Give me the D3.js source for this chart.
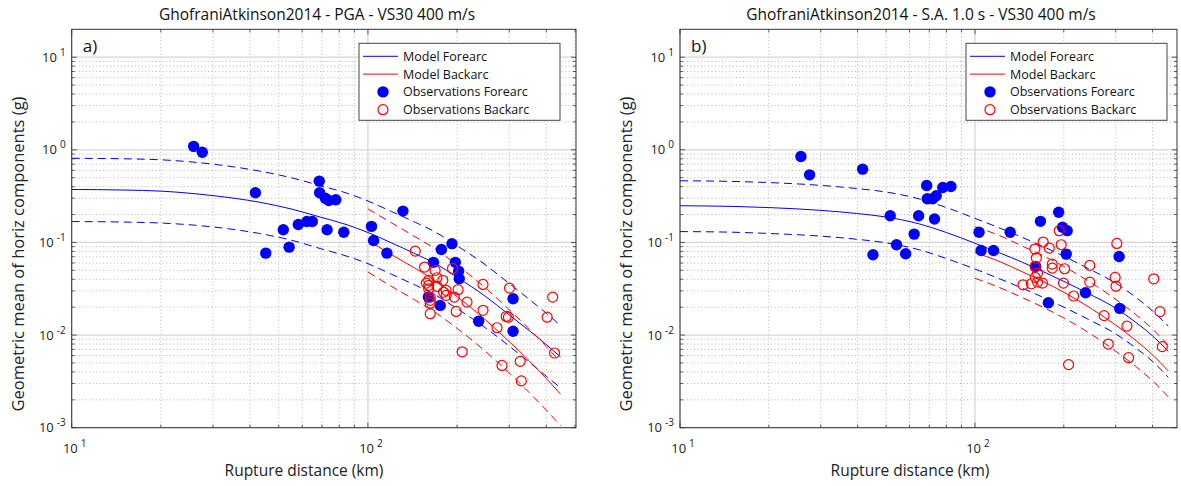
<!DOCTYPE html>
<html>
<head>
<meta charset="utf-8">
<script src="https://cdn.jsdelivr.net/npm/d3@7"></script>
<style>
  body { margin: 0; background: #fff; }
  svg { display: block; font-family: "Open Sans", "Noto Sans", sans-serif; }
</style>
</head>
<body>
<div id="chart"></div>
<script>
// ---- data ----
// panel a) PGA
let pgaForeDist = [10, 15, 20, 30, 43, 55, 69, 85, 100, 120, 145, 170, 200, 250, 300, 350, 400, 447];
let pgaForeMean = [0.373, 0.368, 0.358, 0.32, 0.272, 0.23, 0.188, 0.155, 0.128, 0.099, 0.075, 0.0585, 0.042, 0.026, 0.0165, 0.0112, 0.0079, 0.0058];
let pgaForeUp = [0.81, 0.80, 0.78, 0.70, 0.59, 0.50, 0.41, 0.34, 0.28, 0.216, 0.164, 0.128, 0.092, 0.057, 0.036, 0.0244, 0.0172, 0.0127];
let pgaForeLo = [0.168, 0.166, 0.162, 0.147, 0.125, 0.106, 0.086, 0.071, 0.059, 0.0454, 0.0344, 0.0268, 0.0193, 0.0119, 0.0076, 0.0051, 0.0036, 0.0027];
let pgaBackDist = [100, 120, 145, 170, 200, 250, 300, 350, 400, 447];
let pgaBackMean = [0.105, 0.074, 0.052, 0.038, 0.026, 0.0145, 0.0085, 0.0053, 0.0034, 0.0023];
let pgaBackUp = [0.23, 0.163, 0.114, 0.084, 0.057, 0.032, 0.0187, 0.0117, 0.0075, 0.0051];
let pgaBackLo = [0.048, 0.0336, 0.0236, 0.0173, 0.0118, 0.0066, 0.0039, 0.0024, 0.00155, 0.00105];
let pgaObsFore = [[25.8, 1.09], [27.6, 0.94], [41.7, 0.344], [45.2, 0.0767], [51.8, 0.137], [54.2, 0.089], [58.2, 0.156], [62.2, 0.168], [64.9, 0.168], [68.5, 0.459], [68.7, 0.344], [71.8, 0.30], [72.8, 0.137], [73.8, 0.284], [77.9, 0.289], [82.9, 0.129], [102.8, 0.149], [104.5, 0.105], [115.9, 0.0767], [131.3, 0.218], [160, 0.0257], [166.4, 0.061], [175.4, 0.0209], [177, 0.084], [192.2, 0.097], [197.3, 0.061], [202.4, 0.049], [203.4, 0.0406], [236.5, 0.0141], [309, 0.0247], [309, 0.011]];
let pgaObsBack = [[144.5, 0.0806], [155.3, 0.0542], [168.6, 0.0499], [193, 0.0524], [160.4, 0.039], [157.5, 0.0364], [160.4, 0.0344], [160.4, 0.0316], [162.3, 0.0257], [162.3, 0.0237], [162.3, 0.0221], [162.3, 0.017], [171, 0.0416], [171, 0.0335], [179, 0.039], [180, 0.029], [183.7, 0.0304], [183.7, 0.0268], [195.7, 0.0257], [201.5, 0.0309], [198.6, 0.018], [216, 0.0227], [244.6, 0.0352], [244.6, 0.0185], [300.4, 0.0321], [293, 0.0159], [298, 0.0156], [272.7, 0.012], [420.5, 0.0257], [402.8, 0.0156], [426.6, 0.0064], [208, 0.0066], [283.6, 0.0047], [326.6, 0.0052], [329.5, 0.0032]];

// panel b) S.A. 1.0 s
let saForeDist = [10, 15, 20, 30, 40, 50, 65, 80, 100, 120, 145, 162, 200, 240, 300, 350, 400, 452];
let saForeMean = [0.249, 0.245, 0.238, 0.222, 0.205, 0.188, 0.158, 0.128, 0.098, 0.078, 0.061, 0.052, 0.038, 0.0285, 0.0195, 0.0138, 0.0098, 0.0067];
let saForeUp = [0.463, 0.456, 0.443, 0.413, 0.381, 0.35, 0.294, 0.238, 0.182, 0.145, 0.113, 0.097, 0.071, 0.053, 0.0363, 0.0257, 0.0182, 0.0125];
let saForeLo = [0.131, 0.129, 0.125, 0.117, 0.108, 0.099, 0.083, 0.067, 0.0516, 0.041, 0.032, 0.0274, 0.02, 0.015, 0.0103, 0.0073, 0.0052, 0.0035];
let saBackDist = [100, 120, 145, 170, 200, 250, 300, 350, 400, 452];
let saBackMean = [0.078, 0.063, 0.048, 0.038, 0.029, 0.019, 0.0128, 0.0088, 0.0061, 0.0041];
let saBackUp = [0.148, 0.12, 0.091, 0.072, 0.055, 0.036, 0.0243, 0.0167, 0.0116, 0.0078];
let saBackLo = [0.041, 0.033, 0.0253, 0.02, 0.0153, 0.01, 0.0067, 0.0046, 0.0032, 0.00215];
let saObsFore = [[25.7, 0.848], [27.5, 0.537], [41.6, 0.618], [45.1, 0.0736], [51.6, 0.194], [54.2, 0.0944], [58.2, 0.0755], [62.2, 0.123], [64.4, 0.194], [68.6, 0.412], [68.9, 0.296], [71.9, 0.296], [73.9, 0.319], [72.9, 0.179], [77.8, 0.392], [82.9, 0.402], [103.2, 0.129], [104.9, 0.082], [115.6, 0.082], [131.6, 0.129], [160.6, 0.055], [166.7, 0.169], [177.3, 0.0223], [192.2, 0.212], [198, 0.146], [203.9, 0.0748], [205.4, 0.134], [237, 0.0286], [308, 0.0706], [309.6, 0.0194]];
let saObsBack = [[193, 0.134], [170.3, 0.101], [178.6, 0.0869], [196, 0.0944], [159.6, 0.0848], [161.5, 0.0678], [160, 0.055], [163, 0.0467], [160, 0.042], [182.8, 0.0583], [182.8, 0.0528], [201.2, 0.052], [245, 0.0565], [302.6, 0.0975], [298.6, 0.0419], [300.6, 0.0337], [403.6, 0.0405], [245, 0.0373], [199.5, 0.0364], [145.5, 0.0349], [155.3, 0.0358], [163, 0.0373], [169.4, 0.0364], [216, 0.0264], [273.9, 0.0162], [327.4, 0.0125], [423.6, 0.0179], [431.5, 0.0075], [283, 0.008], [331.7, 0.0057], [207.6, 0.0048]];

let yTicks = [1e-3, 1e-2, 1e-1, 1, 10];
let yExp = ['-3', '-2', '-1', '0', '1'];
let xTicks = [10, 100];
let xExp = ['1', '2'];
let legendLabels = ['Model Forearc', 'Model Backarc', 'Observations Forearc', 'Observations Backarc'];

const BLUE = '#0000ff', RED = '#ff0000';

let svg = d3.select('#chart').append('svg')
    .attr('width', 1181)
    .attr('height', 486);

//一个面板
function drawPanel(p) {
    let x = d3.scaleLog().domain([10, p.xmax]).range([p.left, p.right]);
    let y = d3.scaleLog().domain([1e-3, 20]).range([p.bottom, p.top]);
    let g = svg.append('g');

    //网格
    let xMinor = [];
    [10, 100].forEach(function (b) {
        for (let k = 2; k <= 9; k++) if (b * k < p.xmax) xMinor.push(b * k);
    });
    let yMinor = [];
    [1e-3, 1e-2, 1e-1, 1, 10].forEach(function (b) {
        for (let k = 2; k <= 9; k++) if (b * k < 20) yMinor.push(b * k);
    });
    g.selectAll('.xminor').data(xMinor).enter().append('line')
        .attr('x1', d => x(d)).attr('x2', d => x(d))
        .attr('y1', p.top).attr('y2', p.bottom)
        .attr('stroke', '#b4b4b4').attr('stroke-width', 1).attr('stroke-dasharray', '1,2.5');
    g.selectAll('.yminor').data(yMinor).enter().append('line')
        .attr('x1', p.left).attr('x2', p.right)
        .attr('y1', d => y(d)).attr('y2', d => y(d))
        .attr('stroke', '#b4b4b4').attr('stroke-width', 1).attr('stroke-dasharray', '1,2.5');
    g.selectAll('.xmajor').data(xTicks).enter().append('line')
        .attr('x1', d => x(d)).attr('x2', d => x(d))
        .attr('y1', p.top).attr('y2', p.bottom)
        .attr('stroke', '#d6d6d6').attr('stroke-width', 1.3);
    g.selectAll('.ymajor').data(yTicks).enter().append('line')
        .attr('x1', p.left).attr('x2', p.right)
        .attr('y1', d => y(d)).attr('y2', d => y(d))
        .attr('stroke', '#d6d6d6').attr('stroke-width', 1.3);

    //刻度
    let tk = g.append('g').attr('stroke', '#333').attr('stroke-width', 0.8);
    xTicks.concat(xMinor).forEach(function (d) {
        let len = xTicks.indexOf(d) >= 0 ? 5 : 3;
        tk.append('line').attr('x1', x(d)).attr('x2', x(d)).attr('y1', p.bottom).attr('y2', p.bottom - len);
        tk.append('line').attr('x1', x(d)).attr('x2', x(d)).attr('y1', p.top).attr('y2', p.top + len);
    });
    yTicks.concat(yMinor).forEach(function (d) {
        let len = yTicks.indexOf(d) >= 0 ? 5 : 3;
        tk.append('line').attr('y1', y(d)).attr('y2', y(d)).attr('x1', p.left).attr('x2', p.left + len);
        tk.append('line').attr('y1', y(d)).attr('y2', y(d)).attr('x1', p.right).attr('x2', p.right - len);
    });

    //曲线
    let line = d3.line()
        .x(d => x(d[0]))
        .y(d => y(d[1]))
        .curve(d3.curveMonotoneX);
    let curves = [
        [p.foreDist, p.foreMean, BLUE, null],
        [p.foreDist, p.foreUp, BLUE, '8,5'],
        [p.foreDist, p.foreLo, BLUE, '8,5'],
        [p.backDist, p.backMean, RED, null],
        [p.backDist, p.backUp, RED, '8,5'],
        [p.backDist, p.backLo, RED, '8,5']
    ];
    curves.forEach(function (c) {
        g.append('path')
            .attr('d', line(c[0].map((d, i) => [d, c[1][i]])))
            .attr('fill', 'none')
            .attr('stroke', c[2])
            .attr('stroke-width', 1)
            .attr('stroke-dasharray', c[3]);
    });

    //观测点
    g.selectAll('.obsf').data(p.obsFore).enter().append('circle')
        .attr('cx', d => x(d[0])).attr('cy', d => y(d[1]))
        .attr('r', 5.7).attr('fill', BLUE);
    g.selectAll('.obsb').data(p.obsBack).enter().append('circle')
        .attr('cx', d => x(d[0])).attr('cy', d => y(d[1]))
        .attr('r', 5).attr('fill', 'none').attr('stroke', RED).attr('stroke-width', 1.2);

    //边框
    g.append('rect')
        .attr('x', p.left).attr('y', p.top)
        .attr('width', p.right - p.left).attr('height', p.bottom - p.top)
        .attr('fill', 'none').attr('stroke', '#333').attr('stroke-width', 1);

    //刻度标签
    yTicks.forEach(function (d, i) {
        let t = g.append('text')
            .attr('x', p.left - 6).attr('y', y(d) + 4.5)
            .attr('text-anchor', 'end').attr('font-size', 13).attr('fill', '#222');
        t.append('tspan').text('10');
        t.append('tspan').attr('dx', 3).attr('dy', -6).attr('font-size', 10).text(yExp[i]);
    });
    xTicks.forEach(function (d, i) {
        let t = g.append('text')
            .attr('x', x(d) + 3).attr('y', p.bottom + 25)
            .attr('text-anchor', 'middle').attr('font-size', 13).attr('fill', '#222');
        t.append('tspan').text('10');
        t.append('tspan').attr('dx', 3).attr('dy', -6).attr('font-size', 10).text(xExp[i]);
    });

    //标题和坐标轴标签
    g.append('text')
        .attr('x', p.titleX).attr('y', 20)
        .attr('text-anchor', 'middle').attr('font-size', 15.5).attr('fill', '#111')
        .text(p.title);
    g.append('text')
        .attr('x', p.xlabelX).attr('y', 476)
        .attr('text-anchor', 'middle').attr('font-size', 15.5).attr('fill', '#222')
        .text('Rupture distance (km)');
    g.append('text')
        .attr('transform', 'translate(' + p.ylabelX + ',' + 254 + ') rotate(-90)')
        .attr('text-anchor', 'middle').attr('font-size', 16.5).attr('fill', '#222')
        .text('Geometric mean of horiz components (g)');
    g.append('text')
        .attr('x', p.left + 11).attr('y', p.top + 23)
        .attr('font-size', 17).attr('fill', '#111')
        .text(p.label);

    //图例
    let lg = g.append('g').attr('transform', 'translate(' + p.legendX + ',' + (p.top + 14) + ')');
    lg.append('rect')
        .attr('width', 201).attr('height', 77)
        .attr('fill', '#fff').attr('stroke', '#444').attr('stroke-width', 1);
    legendLabels.forEach(function (lab, i) {
        let cy = 13 + i * 17.8;
        if (i < 2) {
            lg.append('line').attr('x1', 4).attr('x2', 39).attr('y1', cy).attr('y2', cy)
                .attr('stroke', i === 0 ? BLUE : RED).attr('stroke-width', 1);
        } else if (i === 2) {
            lg.append('circle').attr('cx', 24).attr('cy', cy).attr('r', 5.7).attr('fill', BLUE);
        } else {
            lg.append('circle').attr('cx', 24).attr('cy', cy).attr('r', 5)
                .attr('fill', 'none').attr('stroke', RED).attr('stroke-width', 1.2);
        }
        lg.append('text').attr('x', 44).attr('y', cy + 4.5)
            .attr('font-size', 12.5).attr('fill', '#111').text(lab);
    });
}

drawPanel({
    left: 71.7, right: 576, top: 29.3, bottom: 427.7, xmax: 504,
    title: 'GhofraniAtkinson2014 - PGA - VS30 400 m/s', titleX: 317, xlabelX: 304, ylabelX: 24,
    label: 'a)', legendX: 359,
    foreDist: pgaForeDist, foreMean: pgaForeMean, foreUp: pgaForeUp, foreLo: pgaForeLo,
    backDist: pgaBackDist, backMean: pgaBackMean, backUp: pgaBackUp, backLo: pgaBackLo,
    obsFore: pgaObsFore, obsBack: pgaObsBack
});
drawPanel({
    left: 680, right: 1177, top: 29.3, bottom: 427.7, xmax: 484,
    title: 'GhofraniAtkinson2014 - S.A. 1.0 s - VS30 400 m/s', titleX: 921, xlabelX: 910, ylabelX: 632,
    label: 'b)', legendX: 966,
    foreDist: saForeDist, foreMean: saForeMean, foreUp: saForeUp, foreLo: saForeLo,
    backDist: saBackDist, backMean: saBackMean, backUp: saBackUp, backLo: saBackLo,
    obsFore: saObsFore, obsBack: saObsBack
});
</script>
</body>
</html>
